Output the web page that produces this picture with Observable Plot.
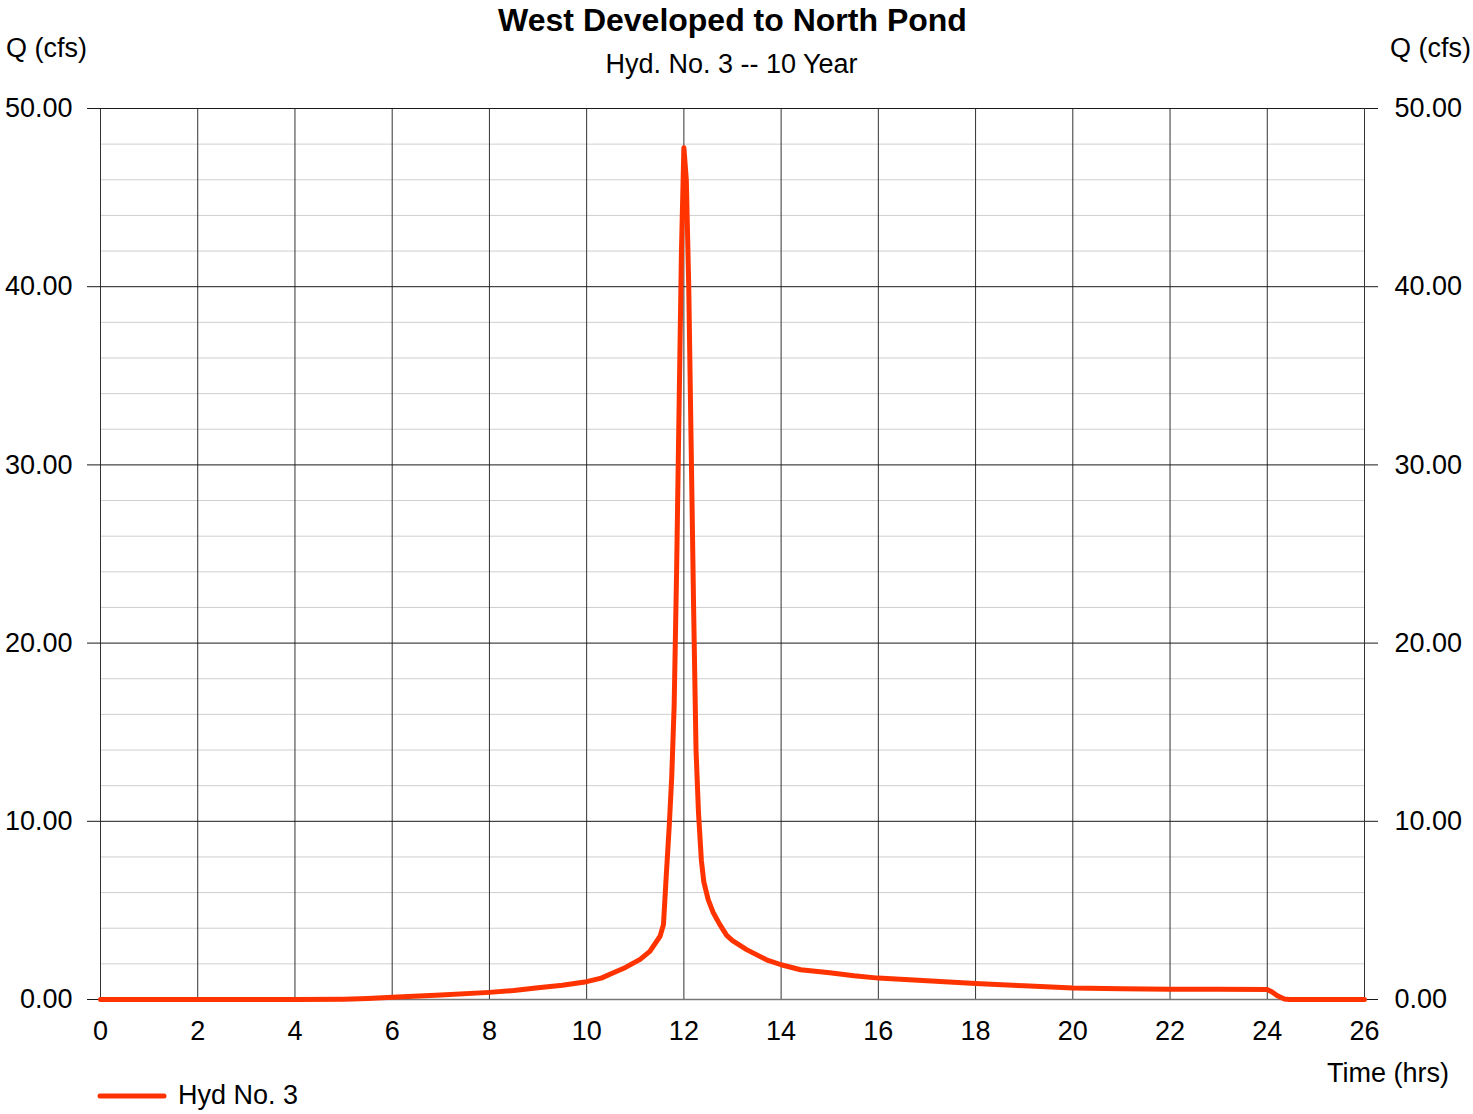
<!DOCTYPE html>
<html>
<head>
<meta charset="utf-8">
<script src="https://cdn.jsdelivr.net/npm/d3@7"></script>
<script src="https://cdn.jsdelivr.net/npm/@observablehq/plot@0.6"></script>
<style>
  html, body { margin: 0; padding: 0; background: #fff; }
  #wrap { position: relative; width: 1473px; height: 1114px; overflow: hidden;
          font-family: "Liberation Sans", Arial, sans-serif; color: #000; }
  #wrap > svg { position: absolute; left: 0; top: 0; }
  .lbl { position: absolute; white-space: nowrap; font-size: 27px; line-height: 27px; }
  #title { left: 0; width: 1465px; text-align: center; top: 4px; font-weight: bold; font-size: 32px; line-height: 32px; }
  #subtitle { left: 0; width: 1463px; text-align: center; top: 51px; }
  #qleft { left: 6px; top: 35px; }
  #qright { right: 2px; top: 35px; }
  #xlabel { left: 1327px; top: 1060px; }
  #legend { left: 96px; top: 1082px; display: flex; align-items: center; }
  #legend svg.swatch { display: block; width: 72px; height: 10px; margin-right: 10px; }
</style>
</head>
<body>
<div id="wrap">
  <div class="lbl" id="title">West Developed to North Pond</div>
  <div class="lbl" id="subtitle">Hyd. No. 3 -- 10 Year</div>
  <div class="lbl" id="qleft">Q (cfs)</div>
  <div class="lbl" id="qright">Q (cfs)</div>
  <div class="lbl" id="xlabel">Time (hrs)</div>
  <div class="lbl" id="legend"><svg class="swatch" width="72" height="10"><line x1="4" y1="5" x2="68" y2="5" stroke="#ff3300" stroke-width="5" stroke-linecap="round"/></svg><span>Hyd No. 3</span></div>
</div>
<script>
// Hydrograph: time (hrs) and flow Q (cfs)
const timeHrs = [0, 1, 2, 3, 4, 5, 5.5, 6, 7, 8, 8.5, 9, 9.5, 10, 10.3, 10.55, 10.8, 11.1, 11.3, 11.51, 11.58, 11.63, 11.7, 11.75, 11.8, 11.85, 11.9, 11.95, 12.0, 12.05, 12.1, 12.15, 12.2, 12.25, 12.3, 12.36, 12.41, 12.5, 12.6, 12.74, 12.88, 13.0, 13.29, 13.7, 14.0, 14.4, 15, 15.5, 16, 17, 18, 19, 20, 21, 22, 23, 24, 24.1, 24.2, 24.35, 24.45, 25, 26];
const flowCfs = [0, 0, 0, 0, 0, 0.02, 0.06, 0.13, 0.25, 0.4, 0.5, 0.66, 0.8, 1.0, 1.2, 1.5, 1.8, 2.25, 2.7, 3.55, 4.2, 6.6, 9.8, 12.5, 16.5, 24, 33, 42, 47.8, 46, 40, 31, 22, 14, 10.5, 7.8, 6.6, 5.6, 4.9, 4.2, 3.6, 3.3, 2.8, 2.23, 1.95, 1.67, 1.5, 1.33, 1.2, 1.05, 0.9, 0.77, 0.65, 0.6, 0.58, 0.57, 0.56, 0.42, 0.22, 0.03, 0, 0, 0];

const xTicks = [0, 2, 4, 6, 8, 10, 12, 14, 16, 18, 20, 22, 24, 26];
const yMajorTicks = [0, 10, 20, 30, 40, 50];
const yMinorTicks = [2, 4, 6, 8, 12, 14, 16, 18, 22, 24, 26, 28, 32, 34, 36, 38, 42, 44, 46, 48];

const data = timeHrs.map((t, i) => ({t, q: flowCfs[i]}));

const chart = Plot.plot({
  width: 1473,
  height: 1114,
  marginTop: 108,
  marginBottom: 115,
  marginLeft: 100,
  marginRight: 109,
  style: {fontSize: "27px", fontFamily: "'Liberation Sans', Arial, sans-serif", color: "#000", background: "transparent", overflow: "visible"},
  x: {domain: [0, 26]},
  y: {domain: [0, 50]},
  marks: [
    Plot.ruleY(yMinorTicks, {stroke: "#cfcfcf", strokeWidth: 1}),
    Plot.ruleX(xTicks, {stroke: "#333", strokeWidth: 1}),
    Plot.ruleY(yMajorTicks.filter(d => d > 0), {stroke: "#1a1a1a", strokeWidth: 1}),
    Plot.ruleY([0], {stroke: "#777", strokeWidth: 1.5}),
    Plot.axisY({anchor: "left", ticks: yMajorTicks, tickFormat: d3.format(".2f"), tickSize: 13, tickPadding: 15, label: null, stroke: "#1a1a1a"}),
    Plot.axisY({anchor: "right", ticks: yMajorTicks, tickFormat: d3.format(".2f"), tickSize: 13, tickPadding: 17, label: null, stroke: "#1a1a1a"}),
    Plot.axisX({anchor: "bottom", ticks: xTicks, tickSize: 0, tickPadding: 21, label: null}),
    Plot.line(data, {x: "t", y: "q", stroke: "#ff3300", strokeWidth: 5, strokeLinejoin: "round", strokeLinecap: "round"})
  ]
});
document.getElementById("wrap").prepend(chart);
</script>
</body>
</html>
